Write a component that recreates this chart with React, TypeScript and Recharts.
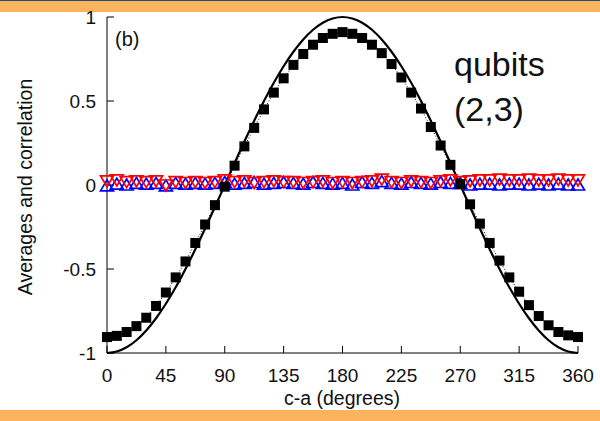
import { ComposedChart, Line, XAxis, YAxis } from "recharts";

// angle c-a in degrees, sampled every 7.5 degrees
const angles = [
	0, 7.5, 15, 22.5, 30, 37.5, 45, 52.5, 60, 67.5, 75, 82.5, 90, 97.5, 105, 112.5, 120, 127.5, 135, 142.5, 150, 157.5, 165,
	172.5, 180, 187.5, 195, 202.5, 210, 217.5, 225, 232.5, 240, 247.5, 255, 262.5, 270, 277.5, 285, 292.5, 300, 307.5, 315,
	322.5, 330, 337.5, 345, 352.5, 360,
];

// solid curve (quantum prediction)
const theory = [
	-1, -0.991, -0.966, -0.924, -0.866, -0.793, -0.707, -0.609, -0.5, -0.383, -0.259, -0.131, 0, 0.131, 0.259, 0.383, 0.5,
	0.609, 0.707, 0.793, 0.866, 0.924, 0.966, 0.991, 1, 0.991, 0.966, 0.924, 0.866, 0.793, 0.707, 0.609, 0.5, 0.383, 0.259,
	0.131, 0, -0.131, -0.259, -0.383, -0.5, -0.609, -0.707, -0.793, -0.866, -0.924, -0.966, -0.991, -1,
];

// black squares (simulated correlation)
const correlation = [
	-0.905, -0.898, -0.875, -0.84, -0.79, -0.72, -0.64, -0.55, -0.455, -0.345, -0.235, -0.12, -0.01, 0.115, 0.23, 0.34, 0.45,
	0.55, 0.635, 0.715, 0.78, 0.835, 0.875, 0.9, 0.91, 0.9, 0.875, 0.835, 0.785, 0.72, 0.64, 0.55, 0.455, 0.345, 0.235, 0.12,
	0.005, -0.115, -0.23, -0.345, -0.45, -0.55, -0.635, -0.715, -0.78, -0.835, -0.875, -0.895, -0.905,
];

// red down-triangles (average, qubit 2)
const averageRed = [
	0.025, 0.03, 0.02, 0.025, 0.02, 0.025, 0.0, 0.02, 0.015, 0.02, 0.015, 0.02, 0.03, 0.02, 0.025, 0.015, 0.02, 0.025, 0.02,
	0.02, 0.015, 0.02, 0.025, 0.015, 0.02, 0.015, 0.02, 0.025, 0.035, 0.02, 0.015, 0.025, 0.02, 0.015, 0.025, 0.03, 0.02, 0.025,
	0.03, 0.03, 0.035, 0.03, 0.03, 0.035, 0.03, 0.03, 0.035, 0.03, 0.03,
];

// blue up-triangles (average, qubit 3)
const averageBlue = [
	-0.005, 0.005, 0.0, 0.01, 0.005, 0.01, -0.005, 0.01, 0.005, 0.01, 0.005, 0.01, 0.015, 0.005, 0.01, 0.015, 0.005, 0.01,
	0.015, 0.01, 0.005, 0.015, 0.01, 0.005, 0.01, 0.0, 0.015, 0.01, 0.02, 0.01, 0.005, 0.015, 0.01, 0.005, 0.015, 0.01, 0.01,
	0.0, 0.005, 0.005, 0.0, 0.005, 0.005, 0.0, 0.005, 0.0, 0.005, 0.0, 0.0,
];

const xTicks = [0, 45, 90, 135, 180, 225, 270, 315, 360];
const yTicks = [-1, -0.5, 0, 0.5, 1];

const data = angles.map((a, i) => ({
	angle: a,
	theory: theory[i],
	correlation: correlation[i],
	red: averageRed[i],
	blue: averageBlue[i],
}));

const FONT = '"Liberation Sans", Arial, Helvetica, sans-serif';

type DotProps = { cx?: number; cy?: number; index?: number };

const squareDot = (p: DotProps) => (
	<rect key={`sq-${p.index}`} x={(p.cx ?? 0) - 5} y={(p.cy ?? 0) - 5} width={10} height={10} fill="#000" />
);

const downTriangle = (p: DotProps) => {
	const x = p.cx ?? 0;
	const y = p.cy ?? 0;
	return (
		<path
			key={`dn-${p.index}`}
			d={`M${x - 6.5},${y - 5} L${x + 6.5},${y - 5} L${x},${y + 6}Z`}
			fill="none"
			stroke="#ff0000"
			strokeWidth={1.7}
		/>
	);
};

const upTriangle = (p: DotProps) => {
	const x = p.cx ?? 0;
	const y = p.cy ?? 0;
	return (
		<path
			key={`up-${p.index}`}
			d={`M${x - 6.5},${y + 5} L${x + 6.5},${y + 5} L${x},${y - 6}Z`}
			fill="none"
			stroke="#0000ff"
			strokeWidth={1.7}
		/>
	);
};

const tickStyle = { fontSize: 19, fill: "#111", fontFamily: FONT };

export default function App() {
	return (
		<div style={styles.page}>
			<div style={styles.topLine} />
			<div style={styles.topBand} />
			<ComposedChart width={600} height={421} data={data} margin={{ top: 17, right: 22, bottom: 28, left: 47 }}>
				<XAxis
					dataKey="angle"
					type="number"
					domain={[0, 360]}
					ticks={xTicks}
					height={40}
					tickSize={-7}
					tickMargin={23}
					tick={tickStyle}
					stroke="#000"
					interval={0}
				/>
				<XAxis
					xAxisId="top"
					orientation="top"
					type="number"
					domain={[0, 360]}
					ticks={xTicks}
					height={0}
					tickSize={-7}
					tick={false}
					stroke="#000"
				/>
				<YAxis
					type="number"
					domain={[-1, 1]}
					ticks={yTicks}
					width={60}
					tickSize={-7}
					tickMargin={18}
					tick={tickStyle}
					stroke="#000"
					interval={0}
				/>
				<YAxis
					yAxisId="right"
					orientation="right"
					type="number"
					domain={[-1, 1]}
					ticks={yTicks}
					width={0}
					tickSize={-7}
					tick={false}
					stroke="#000"
				/>
				<Line dataKey="blue" stroke="none" dot={upTriangle} isAnimationActive={false} />
				<Line dataKey="red" stroke="none" dot={downTriangle} isAnimationActive={false} />
				<Line
					dataKey="theory"
					type="monotone"
					stroke="#000"
					strokeWidth={2.2}
					dot={false}
					isAnimationActive={false}
				/>
				<Line
					dataKey="correlation"
					type="linear"
					stroke="#000"
					strokeWidth={1}
					strokeDasharray="1 2"
					dot={squareDot}
					isAnimationActive={false}
				/>
				<text x={115} y={46} fontSize={20} fontFamily={FONT} fill="#111">
					(b)
				</text>
				<text x={454} y={76} fontSize={34} fontFamily={FONT} fill="#111">
					qubits
				</text>
				<text x={454} y={121} fontSize={34} fontFamily={FONT} fill="#111">
					(2,3)
				</text>
				<text
					x={25}
					y={187}
					transform="rotate(-90 25 187)"
					textAnchor="middle"
					dominantBaseline="central"
					fontSize={19.5}
					fontFamily={FONT}
					fill="#111"
				>
					Averages and correlation
				</text>
				<text x={342} y={405} textAnchor="middle" fontSize={19.5} fontFamily={FONT} fill="#111">
					c-a (degrees)
				</text>
			</ComposedChart>
			<div style={styles.bottomBand} />
		</div>
	);
}

const styles = {
	page: {
		position: "absolute",
		left: 0,
		top: 0,
		width: 600,
		height: 421,
		background: "#fff",
		overflow: "hidden",
	},
	topLine: {
		position: "absolute",
		left: 0,
		top: 0,
		width: 600,
		height: 1,
		background: "#1d4f7c",
	},
	topBand: {
		position: "absolute",
		left: 0,
		top: 1,
		width: 600,
		height: 11,
		background: "#fbb35e",
	},
	bottomBand: {
		position: "absolute",
		left: 0,
		top: 410,
		width: 600,
		height: 11,
		background: "#fbb35e",
	},
} satisfies Record<string, React.CSSProperties>;
